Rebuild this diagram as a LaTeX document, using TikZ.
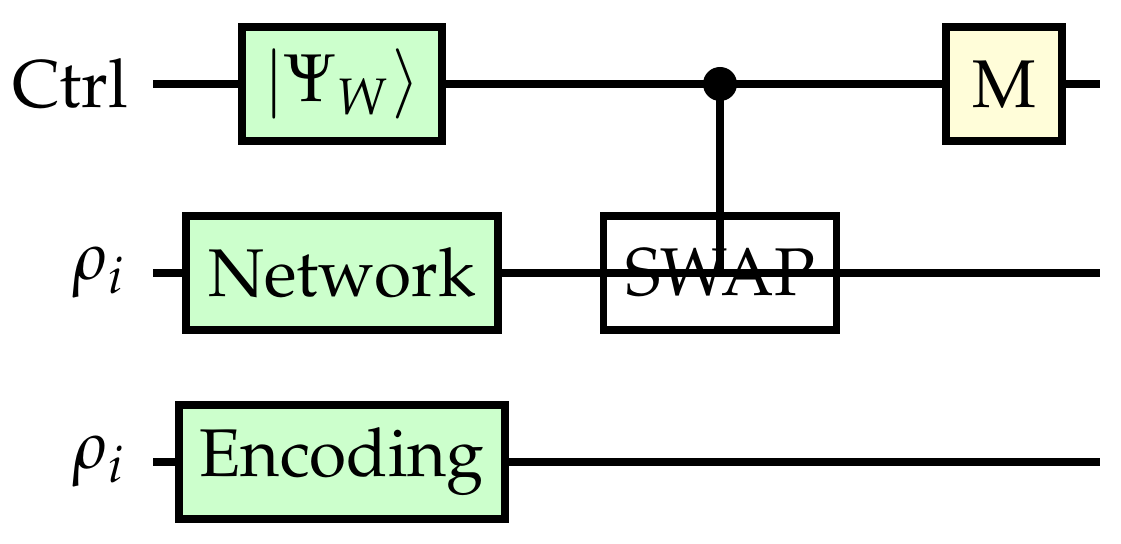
\documentclass[tikz,border=0pt]{standalone}
\usepackage[T1]{fontenc}
\usepackage{mathpazo}
\usetikzlibrary{positioning}
\tikzset{every picture/.style={line width=1.1pt, font=\fontsize{9.6}{11.5}\selectfont}}
\tikzset{gate/.style={draw, fill=green!20, minimum height=0.57cm, inner sep=0pt},
    meter/.style={gate, fill=yellow!15}}

\begin{document}
\begin{tikzpicture}
    \useasboundingbox (0,0) rectangle (5.605,2.715);
    % wire ends
    \coordinate (inA) at (0.765,2.295);
    \coordinate (inB) at (0.765,1.35);
    \coordinate (inC) at (0.765,0.405);
    \coordinate (outA) at (5.5,2.295);
    \coordinate (outB) at (5.5,1.35);
    \coordinate (outC) at (5.5,0.405);
    \node[left=0.105cm of inA, inner sep=0] (lblA) {Ctrl};
    \node[left=0.11cm of inB, inner sep=0] (lblB) {$\rho_i$};
    \node[left=0.11cm of inC, inner sep=0] (lblC) {$\rho_i$};
    % wires
    \draw (inA) -- (outA);
    \draw (inB) -- (outB);
    \draw (inC) -- (outC);
    % gates
    \node[gate, minimum width=1.0cm] (psi) at (1.71,2.295) {$|\Psi_W\rangle$};
    \node[gate, minimum width=1.56cm] (net) at (1.71,1.35) {Network};
    \node[gate, minimum width=1.63cm] (enc) at (1.71,0.405) {Encoding};
    \node[gate, fill=none, minimum width=1.165cm] (swap) at (3.6,1.35) {SWAP};
    \node[meter, minimum width=0.58cm] (meas) at (5.02,2.295) {M};
    \coordinate (ctl) at (3.6,2.295);
    \draw (ctl) -- (swap.center);
    \fill (ctl) circle (0.085);
\end{tikzpicture}
\end{document}
